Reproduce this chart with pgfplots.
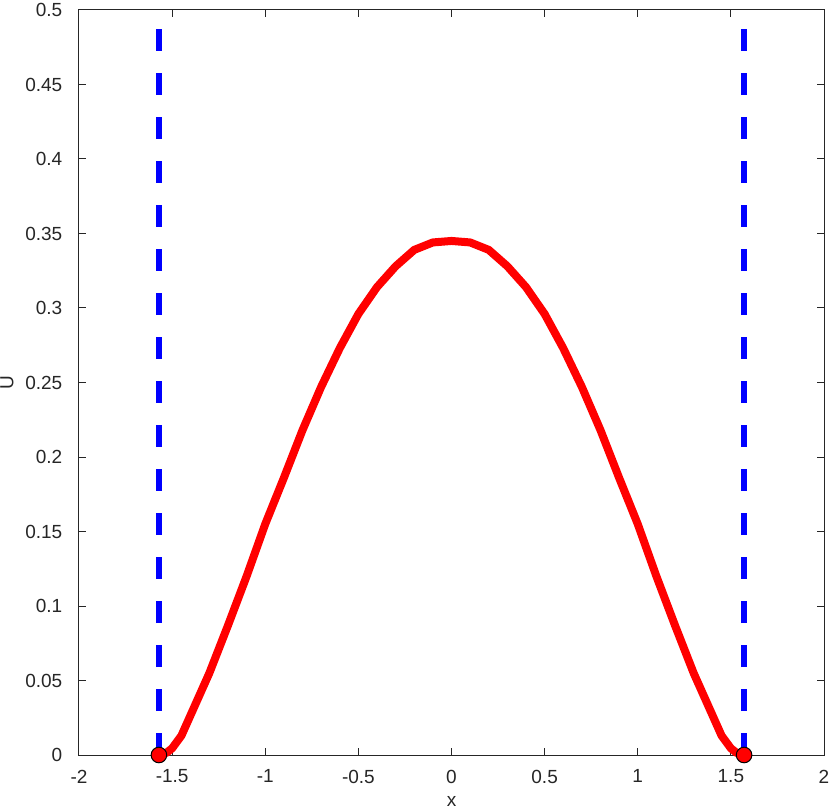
\documentclass[border=0pt]{standalone}
\usepackage{fontspec}
\setmainfont{Liberation Sans}
\usepackage{pgfplots}
\pgfplotsset{compat=1.18}
\definecolor{axgray}{RGB}{38,38,38}

\pgfplotstableread{
x U
-1.5708 0
-1.53 0.0015
-1.5 0.0045
-1.45 0.013
-1.4 0.027
-1.3 0.055
-1.2 0.087
-1.1 0.120
-1.0 0.155
-0.9 0.186
-0.8 0.218
-0.7 0.247
-0.6 0.273
-0.5 0.296
-0.4 0.314
-0.3 0.328
-0.2 0.339
-0.1 0.344
0 0.345
0.1 0.344
0.2 0.339
0.3 0.328
0.4 0.314
0.5 0.296
0.6 0.273
0.7 0.247
0.8 0.218
0.9 0.186
1.0 0.155
1.1 0.120
1.2 0.087
1.3 0.055
1.4 0.027
1.45 0.013
1.5 0.0045
1.53 0.0015
1.5708 0
}\curve

\begin{document}
\fontsize{9.5}{11}\selectfont
\begin{tikzpicture}
\begin{axis}[
  scale only axis,
  width=372.5pt, height=372.5pt,
  xmin=-2, xmax=2, ymin=0, ymax=0.5,
  xtick={-2,-1.5,-1,-0.5,0,0.5,1,1.5,2},
  ytick={0,0.05,0.1,0.15,0.2,0.25,0.3,0.35,0.4,0.45,0.5},
  /pgf/number format/assume math mode=true,
  /pgf/number format/fixed,
  /pgf/number format/precision=2,
  axis line style={axgray, line width=0.5pt},
  tick style={axgray, line width=0.5pt},
  major tick length=3.7pt,
  tick align=inside,
  ticklabel style={text=axgray, font=\fontsize{9.5}{11}\selectfont},
  xticklabel style={yshift=-4pt},
  yticklabel style={xshift=-5pt},
  xlabel={x}, ylabel={U},
  label style={text=axgray, font=\fontsize{9.5}{11}\selectfont},
  xlabel style={at={(axis description cs:0.5,-0.063)}, anchor=center},
  ylabel style={at={(axis description cs:-0.0966,0.5)}, anchor=center},
  clip=false,
]
\addplot[red, line width=4pt, line join=round] table[x=x, y=U] {\curve};
\addplot[blue, line width=3pt, dash pattern=on 11pt off 11pt] coordinates {(-1.5708,0) (-1.5708,0.5)};
\addplot[blue, line width=3pt, dash pattern=on 11pt off 11pt] coordinates {(1.5708,0) (1.5708,0.5)};
\addplot[only marks, mark=*, mark size=3.9pt, mark options={fill=red, draw=black, line width=0.5pt}] coordinates {(-1.5708,0) (1.5708,0)};
\end{axis}
\pgfresetboundingbox
\path[use as bounding box] (-39.5pt,-27pt) rectangle (375.5pt,377.5pt);
\end{tikzpicture}
\end{document}
